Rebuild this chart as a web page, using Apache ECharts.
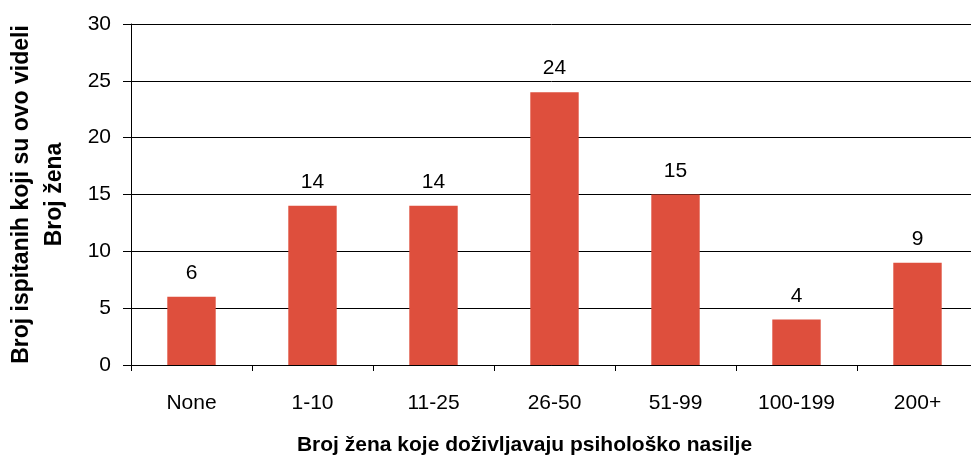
<!DOCTYPE html>
<html>
<head>
<meta charset="utf-8">
<script src="https://cdn.jsdelivr.net/npm/echarts@6/dist/echarts.min.js"></script>
<style>
  html, body { margin: 0; padding: 0; background: #fff; }
  #chart { width: 971px; height: 457px; }
</style>
</head>
<body>
<div id="chart"></div>
<script>
var categories = ['None', '1-10', '11-25', '26-50', '51-99', '100-199', '200+'];
var counts = [6, 14, 14, 24, 15, 4, 9];
var yTicks = { min: 0, max: 30, interval: 5 };
var xTitle = 'Broj žena koje doživljavaju psihološko nasilje';
var yTitle = 'Broj ispitanih koji su ovo videli\nBroj žena';

var myChart = echarts.init(document.getElementById('chart'));
var font = '"Liberation Sans", Arial, sans-serif';

var option = {
    animation: false,
    backgroundColor: '#fff',
    grid: { left: 131, top: 24, width: 847, height: 341, containLabel: false, outerBoundsMode: 'none' },
    xAxis: {
        type: 'category',
        data: categories,
        axisLine: { lineStyle: { color: '#000', width: 1 } },
        axisTick: { show: true, length: 6, lineStyle: { color: '#000' } },
        axisLabel: { color: '#000', fontFamily: font, fontSize: 21, margin: 28 },
        name: xTitle,
        nameLocation: 'middle',
        nameGap: 70,
        nameTextStyle: { color: '#000', fontFamily: font, fontSize: 21, fontWeight: 'bold', padding: [0, 60, 0, 0] }
    },
    yAxis: {
        type: 'value',
        min: yTicks.min,
        max: yTicks.max,
        interval: yTicks.interval,
        axisLine: { show: true, lineStyle: { color: '#000', width: 1 } },
        axisTick: { show: true, length: 8, lineStyle: { color: '#000' } },
        axisLabel: { color: '#000', fontFamily: font, fontSize: 21, margin: 20 },
        splitLine: {
            lineStyle: {
                color: function (v, i) { return i === 6 ? '#c8c8c8' : '#111'; },
                width: 1
            }
        },
        name: yTitle,
        nameLocation: 'middle',
        nameRotate: 90,
        nameGap: 60,
        nameTextStyle: { color: '#000', fontFamily: font, fontSize: 23, fontWeight: 'bold', lineHeight: 33 }
    },
    series: [{
        type: 'bar',
        data: counts,
        barWidth: '40%',
        itemStyle: { color: '#de4f3d' },
        label: {
            show: true,
            position: 'top',
            distance: 13,
            color: '#000',
            fontFamily: font,
            fontSize: 21
        }
    }]
};

myChart.setOption(option, true);
</script>
</body>
</html>
